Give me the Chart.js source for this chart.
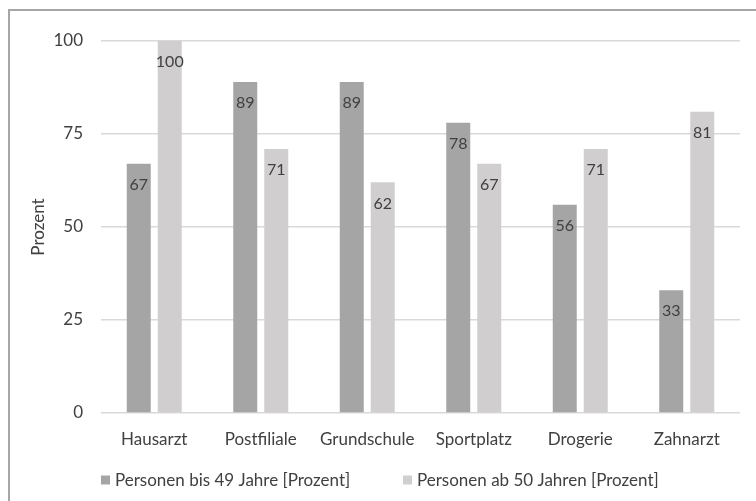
<!DOCTYPE html>
<html>
<head>
<meta charset="utf-8">
<script src="https://cdn.jsdelivr.net/npm/chart.js@4"></script>
<style>
  html, body { margin: 0; padding: 0; background: #ffffff; }
  #frame {
    position: absolute; left: 8px; top: 9px; width: 800px; height: 520px;
    border: 2px solid #a6a6a6; box-sizing: border-box;
  }
  #wrap { position: absolute; left: 0; top: 0; width: 756px; height: 501px; }
</style>
</head>
<body>
<div id="frame"></div>
<div id="wrap"><canvas id="chart" width="756" height="501"></canvas></div>
<script>
// Facilities and the share of each age group that names them
const categories = ['Hausarzt', 'Postfiliale', 'Grundschule', 'Sportplatz', 'Drogerie', 'Zahnarzt'];
const seriesNames = ['Personen bis 49 Jahre [Prozent]', 'Personen ab 50 Jahren [Prozent]'];
const under50 = [67, 89, 89, 78, 56, 33];
const over50 = [100, 71, 62, 67, 71, 81];
const yTicks = [0, 25, 50, 75, 100];

const TEXT = '#404040';
const FONT = 'Lato, "Open Sans", sans-serif';

// Value labels written just inside the top of each bar
const barValueLabels = {
  id: 'barValueLabels',
  afterDatasetsDraw(chart) {
    const ctx = chart.ctx;
    ctx.save();
    ctx.font = '16px ' + FONT;
    ctx.fillStyle = TEXT;
    ctx.textAlign = 'center';
    ctx.textBaseline = 'middle';
    chart.data.datasets.forEach((ds, i) => {
      chart.getDatasetMeta(i).data.forEach((bar, j) => {
        ctx.fillText(String(ds.data[j]), bar.x, bar.y + 21);
      });
    });
    ctx.restore();
  }
};

// Legend row under the axis, one fixed-width slot per series
const slotLegend = {
  id: 'slotLegend',
  afterDraw(chart, args, opts) {
    const ctx = chart.ctx;
    ctx.save();
    ctx.font = '17px ' + FONT;
    ctx.textBaseline = 'middle';
    ctx.textAlign = 'left';
    chart.data.datasets.forEach((ds, i) => {
      const x = opts.startX + i * opts.slot;
      ctx.fillStyle = ds.backgroundColor;
      ctx.fillRect(x, opts.y - opts.box / 2, opts.box, opts.box);
      ctx.fillStyle = TEXT;
      ctx.fillText(ds.label, x + opts.box + 5, opts.y + 1);
    });
    ctx.restore();
  }
};

new Chart(document.getElementById('chart'), {
  type: 'bar',
  data: {
    labels: categories,
    datasets: [
      { label: seriesNames[0], data: under50, backgroundColor: '#a5a5a5',
        categoryPercentage: 0.582, barPercentage: 0.774 },
      { label: seriesNames[1], data: over50, backgroundColor: '#d0cece',
        categoryPercentage: 0.582, barPercentage: 0.774 }
    ]
  },
  options: {
    responsive: false,
    animation: false,
    layout: { padding: { left: 25, right: 16, top: 41, bottom: 48 } },
    plugins: {
      legend: { display: false },
      tooltip: { enabled: false },
      slotLegend: { startX: 101, slot: 302, y: 480, box: 9 }
    },
    scales: {
      x: {
        grid: { display: false, drawTicks: false },
        border: { display: false },
        ticks: { color: TEXT, font: { family: FONT, size: 17 }, padding: 16, maxRotation: 0 },
        afterFit(scale) { scale.height = 40; }
      },
      y: {
        min: 0, max: 100,
        afterBuildTicks(scale) { scale.ticks = yTicks.map(v => ({ value: v })); },
        grid: { color: '#d9d9d9', lineWidth: 1.5, drawTicks: false },
        border: { display: false },
        ticks: { color: TEXT, font: { family: FONT, size: 17 }, padding: 18 },
        title: { display: true, text: 'Prozent', color: TEXT,
                 font: { family: FONT, size: 17 }, padding: { top: 3, bottom: 3 } },
        afterFit(scale) { scale.width = 76; }
      }
    }
  },
  plugins: [barValueLabels, slotLegend]
});
</script>
</body>
</html>
